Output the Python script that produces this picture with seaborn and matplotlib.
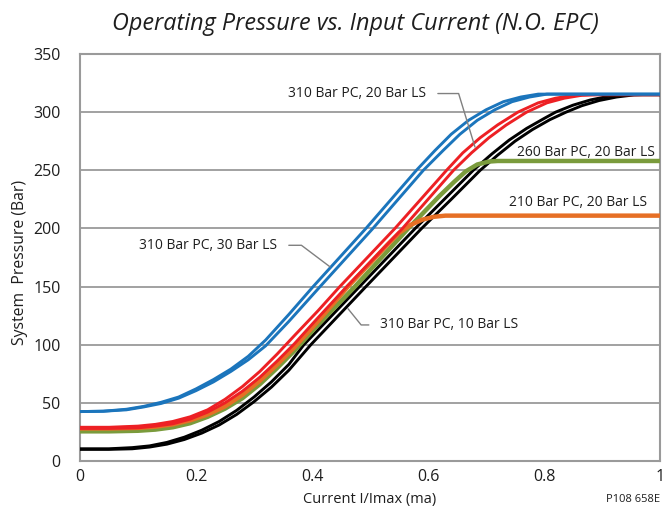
import matplotlib
matplotlib.use("Agg")
import matplotlib.pyplot as plt
import seaborn as sns
import pandas as pd

# ---------------- data ----------------
blue_a_x = [0.00, 0.04, 0.08, 0.11, 0.14, 0.17, 0.20, 0.23, 0.26, 0.29, 0.32, 0.36, 0.402, 0.493, 0.580, 0.612, 0.64, 0.67, 0.70, 0.73, 0.76, 0.79, 1.00]
blue_a_y = [42.5, 42.8, 44.5, 47.0, 50.5, 55.0, 62.0, 70.0, 79.0, 90.0, 104, 126, 150, 200, 250, 267, 281, 293, 302, 309, 313, 315.5, 315.5]
blue_b_x = [0.00, 0.04, 0.08, 0.11, 0.14, 0.17, 0.20, 0.23, 0.26, 0.29, 0.32, 0.36, 0.414, 0.505, 0.592, 0.626, 0.655, 0.685, 0.715, 0.745, 0.775, 0.805, 1.00]
blue_b_y = [42.5, 42.8, 44.0, 46.5, 49.5, 54.0, 60.5, 68.0, 77.0, 87.0, 99, 120, 150, 200, 250, 267, 281, 293, 302, 309, 313, 315.5, 315.5]

red_a_x = [0.00, 0.05, 0.10, 0.13, 0.16, 0.19, 0.22, 0.25, 0.28, 0.31, 0.34, 0.37, 0.41, 0.448, 0.543, 0.632, 0.66, 0.69, 0.72, 0.755, 0.79, 0.82, 0.85, 0.88, 1.00]
red_a_y = [29.0, 29.0, 30.0, 31.5, 34.0, 38.0, 44.0, 53.0, 64.0, 77.0, 92.0, 108, 129, 150, 200, 250, 265, 278, 289, 300, 308, 312, 314.5, 315, 315]
red_b_x = [0.00, 0.05, 0.10, 0.13, 0.16, 0.19, 0.22, 0.25, 0.28, 0.31, 0.34, 0.37, 0.41, 0.46, 0.556, 0.644, 0.675, 0.705, 0.735, 0.77, 0.805, 0.835, 0.865, 0.895, 1.00]
red_b_y = [28.0, 28.0, 28.5, 30.0, 32.0, 36.0, 42.0, 50.0, 60.0, 72.0, 86.0, 101, 123, 150, 200, 250, 265, 278, 289, 300, 308, 312, 314.5, 315, 315]

orange_x = [0.00, 0.05, 0.10, 0.13, 0.16, 0.19, 0.22, 0.25, 0.28, 0.31, 0.34, 0.37, 0.41, 0.462, 0.50, 0.53, 0.55, 0.57, 0.59, 0.61, 0.63, 1.00]
orange_y = [28.0, 28.0, 28.5, 29.5, 31.5, 35.0, 40.0, 47.0, 57.0, 69.0, 83.0, 98.0, 120, 150, 170, 186, 196, 203, 207.5, 210, 211, 211]

green_x = [0.00, 0.05, 0.10, 0.13, 0.16, 0.19, 0.22, 0.25, 0.28, 0.31, 0.34, 0.37, 0.41, 0.474, 0.566, 0.62, 0.645, 0.665, 0.685, 0.705, 0.72, 1.00]
green_y = [25.5, 25.5, 26.0, 27.0, 29.0, 32.5, 38.0, 45.0, 54.0, 66.0, 80.0, 95.0, 117, 150, 200, 228, 240, 249, 255, 257.5, 258, 258]

black_a_x = [0.00, 0.05, 0.09, 0.12, 0.15, 0.18, 0.21, 0.24, 0.27, 0.30, 0.33, 0.36, 0.386, 0.482, 0.578, 0.63, 0.678, 0.71, 0.74, 0.77, 0.80, 0.82, 0.85, 0.88, 0.91, 0.94, 1.00]
black_a_y = [10.5, 10.5, 11.5, 13.0, 16.0, 20.5, 26.5, 34.0, 43.5, 55.0, 68.0, 83.0, 100, 150, 200, 226, 250, 264, 276, 286, 294.5, 300, 306, 310.5, 313.5, 315, 315]
black_b_x = [0.00, 0.05, 0.09, 0.12, 0.15, 0.18, 0.21, 0.24, 0.27, 0.30, 0.33, 0.36, 0.398, 0.493, 0.589, 0.64, 0.69, 0.72, 0.75, 0.78, 0.81, 0.838, 0.865, 0.895, 0.925, 0.955, 0.97, 1.00]
black_b_y = [10.0, 10.0, 10.5, 12.0, 14.5, 18.5, 24.0, 31.0, 40.0, 51.0, 63.5, 78.0, 100, 150, 200, 225, 250, 263, 275, 285, 293.5, 300, 305.5, 310, 313, 314.8, 315, 315]

x_ticks = [0, 0.2, 0.4, 0.6, 0.8, 1]
x_tick_labels = ["0", "0.2", "0.4", "0.6", "0.8", "1"]
y_ticks = [0, 50, 100, 150, 200, 250, 300, 350]

title = "Operating Pressure vs. Input Current (N.O. EPC)"
x_label = "Current I/Imax (ma)"
y_label = "System  Pressure (Bar)"
label_310_20 = "310 Bar PC, 20 Bar LS"
label_310_30 = "310 Bar PC, 30 Bar LS"
label_310_10 = "310 Bar PC, 10 Bar LS"
label_260_20 = "260 Bar PC, 20 Bar LS"
label_210_20 = "210 Bar PC, 20 Bar LS"
code_label = "P108 658E"

# ---------------- style ----------------
sns.set_theme(style="white")
plt.rcParams["font.family"] = ["Open Sans", "DejaVu Sans"]

BLUE = "#1b75bc"
RED = "#ed2024"
ORANGE = "#e66f25"
GREEN = "#7a9b3c"
BLACK = "#000000"
GRAY = "#9a9a9a"
LEADER = "#808080"
TXT = "#1e1e1e"

fig = plt.figure(figsize=(6.64, 5.11), dpi=100)
ax = fig.add_axes([80 / 664, 50 / 511, 580 / 664, 407 / 511])

series = [
    (black_a_x, black_a_y, BLACK, 2.1),
    (black_b_x, black_b_y, BLACK, 2.1),
    (green_x, green_y, GREEN, 3.2),
    (orange_x, orange_y, ORANGE, 3.2),
    (red_a_x, red_a_y, RED, 2.1),
    (red_b_x, red_b_y, RED, 2.1),
    (blue_a_x, blue_a_y, BLUE, 2.1),
    (blue_b_x, blue_b_y, BLUE, 2.1),
]
for xs, ys, col, lw in series:
    df = pd.DataFrame({"x": xs, "y": ys})
    sns.lineplot(data=df, x="x", y="y", ax=ax, color=col, linewidth=lw,
                 sort=False, estimator=None, zorder=3,
                 solid_joinstyle="round", solid_capstyle="butt")

ax.set_xlim(0, 1)
ax.set_ylim(0, 350)
ax.set_xticks(x_ticks)
ax.set_xticklabels(x_tick_labels)
ax.set_yticks(y_ticks)
ax.yaxis.grid(True, color=GRAY, linewidth=1.3)
ax.xaxis.grid(False)
ax.set_axisbelow(True)
for sp in ax.spines.values():
    sp.set_color(GRAY)
    sp.set_linewidth(1.5)
ax.tick_params(axis="x", direction="in", length=11, width=1.2, color=GRAY,
               labelsize=11.5, pad=6, labelcolor=TXT)
ax.tick_params(axis="y", length=0, labelsize=11.5, pad=14, labelcolor=TXT)

ax.set_xlabel(x_label, fontsize=10.5, color=TXT, labelpad=5)
ax.set_ylabel(y_label, fontsize=11.3, color=TXT)
ax.yaxis.set_label_coords((28 - 80) / 580, (461 - 262) / 407)
fig.text(355 / 664, 1 - 24 / 511, title, ha="center", va="center",
         fontsize=16.8, style="italic", color=TXT)
fig.text(660 / 664, 1 - 500 / 511, code_label, ha="right", va="center",
         fontsize=8, color=TXT)

# annotations with leader lines
ANN_FS = 10
ax.annotate(label_310_20, xy=(0.681, 270), xytext=(0.597, 316), textcoords="data",
            ha="right", va="center", fontsize=ANN_FS, color=TXT,
            arrowprops=dict(arrowstyle="-", color=LEADER, lw=1.0,
                            connectionstyle="angle,angleA=0,angleB=107,rad=0",
                            shrinkA=6, shrinkB=0))
ax.annotate(label_310_30, xy=(0.431, 167), xytext=(0.340, 185.5), textcoords="data",
            ha="right", va="center", fontsize=ANN_FS, color=TXT,
            arrowprops=dict(arrowstyle="-", color=LEADER, lw=1.0,
                            connectionstyle="angle,angleA=0,angleB=143,rad=0",
                            shrinkA=6, shrinkB=0))
ax.annotate(label_310_10, xy=(0.462, 131), xytext=(0.518, 117), textcoords="data",
            ha="left", va="center", fontsize=ANN_FS, color=TXT,
            arrowprops=dict(arrowstyle="-", color=LEADER, lw=1.0,
                            connectionstyle="angle,angleA=0,angleB=129,rad=0",
                            shrinkA=6, shrinkB=0))
ax.text(0.992, 265.5, label_260_20, ha="right", va="center", fontsize=ANN_FS, color=TXT)
ax.text(0.978, 222, label_210_20, ha="right", va="center", fontsize=ANN_FS, color=TXT)

fig.savefig("out.png", dpi=100)
